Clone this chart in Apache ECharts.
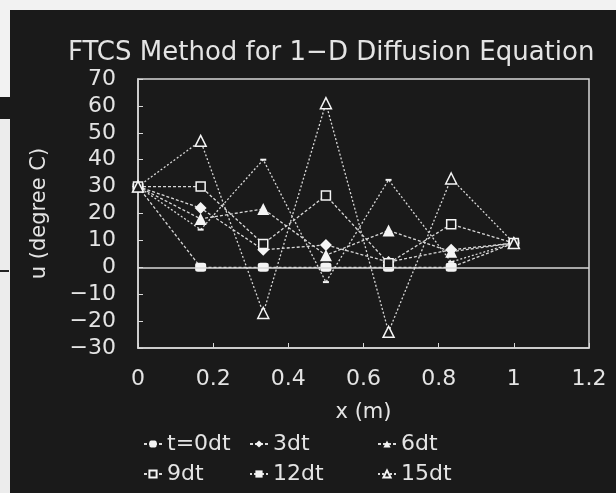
<!DOCTYPE html>
<html>
<head>
<meta charset="utf-8">
<script src="https://cdn.jsdelivr.net/npm/echarts@6/dist/echarts.min.js"></script>
<style>
html,body{margin:0;padding:0;background:#1a1a1a;}
#chart{width:616px;height:493px;}
</style>
</head>
<body>
<div id="chart"></div>
<script>
// x positions (m)
var xs = [0, 0.1667, 0.3333, 0.5, 0.6667, 0.8333, 1];
// series values (degree C)
var t0dt  = [30, 0, 0, 0, 0, 0, 9];
var t3dt  = [30, 22, 6.5, 8.3, 2, 6.5, 9];
var t6dt  = [30, 18, 21.7, 4.5, 13.7, 5.8, 9];
var t9dt  = [30, 30, 8.7, 26.7, 1.5, 16, 9];
var t12dt = [30, 14, 40, -5.5, 32.5, 2, 9];
var t15dt = [30, 47, -17, 61, -24, 33, 9];
var seriesNames = ['t=0dt', '3dt', '6dt', '9dt', '12dt', '15dt'];
var titleText = 'FTCS Method for 1\u2212D Diffusion Equation';
var yName = 'u (degree C)';
var xName = 'x (m)';

function pairs(vals){ return xs.map(function(x,i){ return [x, vals[i]]; }); }

var FONT = 'DejaVu Sans';
var TXT = '#e4e4e4';
var LINE = '#d8d8d8';

function mk(name, vals, symbol, size, filled, dash){
  return {
    name: name, type: 'line', data: pairs(vals),
    symbol: symbol, symbolSize: size,
    lineStyle: {color: LINE, width: 1.3, type: dash},
    itemStyle: {color: filled ? '#f4f4f4' : '#1a1a1a', borderColor: '#f4f4f4', borderWidth: filled ? 0 : 1.5},
    emphasis: {disabled: true},
    animation: false, z: 3
  };
}

var series = [
  mk(seriesNames[0], t0dt, 'roundRect', [11, 9], true, [3, 2]),
  mk(seriesNames[1], t3dt, 'diamond', 12, true, [3, 2]),
  mk(seriesNames[2], t6dt, 'triangle', 12, true, [3, 2]),
  mk(seriesNames[3], t9dt, 'rect', 9, false, [3, 2]),
  mk(seriesNames[4], t12dt, 'rect', [6, 2], true, [2, 2]),
  mk(seriesNames[5], t15dt, 'triangle', 11, false, [2, 2])
];
series[0].markLine = {
  silent: true, symbol: 'none', label: {show: false},
  lineStyle: {color: LINE, width: 1.5, type: 'solid'},
  data: [{yAxis: 0}]
};

var legendText = {color: TXT, fontFamily: FONT, fontSize: 22};
function lg(left, names){
  return {
    orient: 'vertical', left: left, top: 428, itemGap: 8,
    itemWidth: 18, itemHeight: 9, textStyle: legendText,
    data: names, inactiveColor: '#555'
  };
}

var chart = echarts.init(document.getElementById('chart'));
chart.setOption({
  backgroundColor: '#1a1a1a',
  animation: false,
  title: {
    text: titleText, left: 63, top: 35,
    textStyle: {color: TXT, fontFamily: FONT, fontSize: 26, fontWeight: 'normal'}
  },
  graphic: [
    {type: 'rect', shape: {x: 0, y: 0, width: 616, height: 10}, style: {fill: '#f2f2f2'}, silent: true},
    {type: 'rect', shape: {x: 0, y: 10, width: 10, height: 87}, style: {fill: '#f2f2f2'}, silent: true},
    {type: 'rect', shape: {x: 0, y: 119, width: 10, height: 374}, style: {fill: '#ececec'}, silent: true},
    {type: 'rect', shape: {x: 0, y: 270, width: 9, height: 2}, style: {fill: '#222'}, silent: true}
  ],
  legend: [
    lg(138, [seriesNames[0], seriesNames[3]]),
    lg(244, [seriesNames[1], seriesNames[4]]),
    lg(372, [seriesNames[2], seriesNames[5]])
  ],
  grid: {left: 138, right: 27, top: 79, bottom: 145, show: true, borderColor: LINE, borderWidth: 1.5, backgroundColor: 'transparent'},
  xAxis: {
    type: 'value', min: 0, max: 1.2, interval: 0.2,
    name: xName, nameLocation: 'middle', nameGap: 54,
    nameTextStyle: {color: TXT, fontFamily: FONT, fontSize: 21},
    axisLine: {onZero: false, lineStyle: {color: LINE, width: 1.5}},
    axisTick: {inside: true, length: 5, lineStyle: {color: LINE}},
    splitLine: {show: false},
    axisLabel: {color: TXT, fontFamily: FONT, fontSize: 22, margin: 20,
      formatter: function(v){ return String(+v.toFixed(1)); }}
  },
  yAxis: {
    type: 'value', min: -30, max: 70, interval: 10,
    name: yName, nameLocation: 'middle', nameGap: 88, nameRotate: 90,
    nameTextStyle: {color: TXT, fontFamily: FONT, fontSize: 21},
    axisLine: {lineStyle: {color: LINE, width: 1.5}},
    axisTick: {inside: true, length: 5, lineStyle: {color: LINE}},
    splitLine: {show: false},
    axisLabel: {color: TXT, fontFamily: FONT, fontSize: 22, margin: 22,
      formatter: function(v){ return v < 0 ? '\u2212' + Math.abs(v) : String(v); }}
  },
  series: series
});
</script>
</body>
</html>
